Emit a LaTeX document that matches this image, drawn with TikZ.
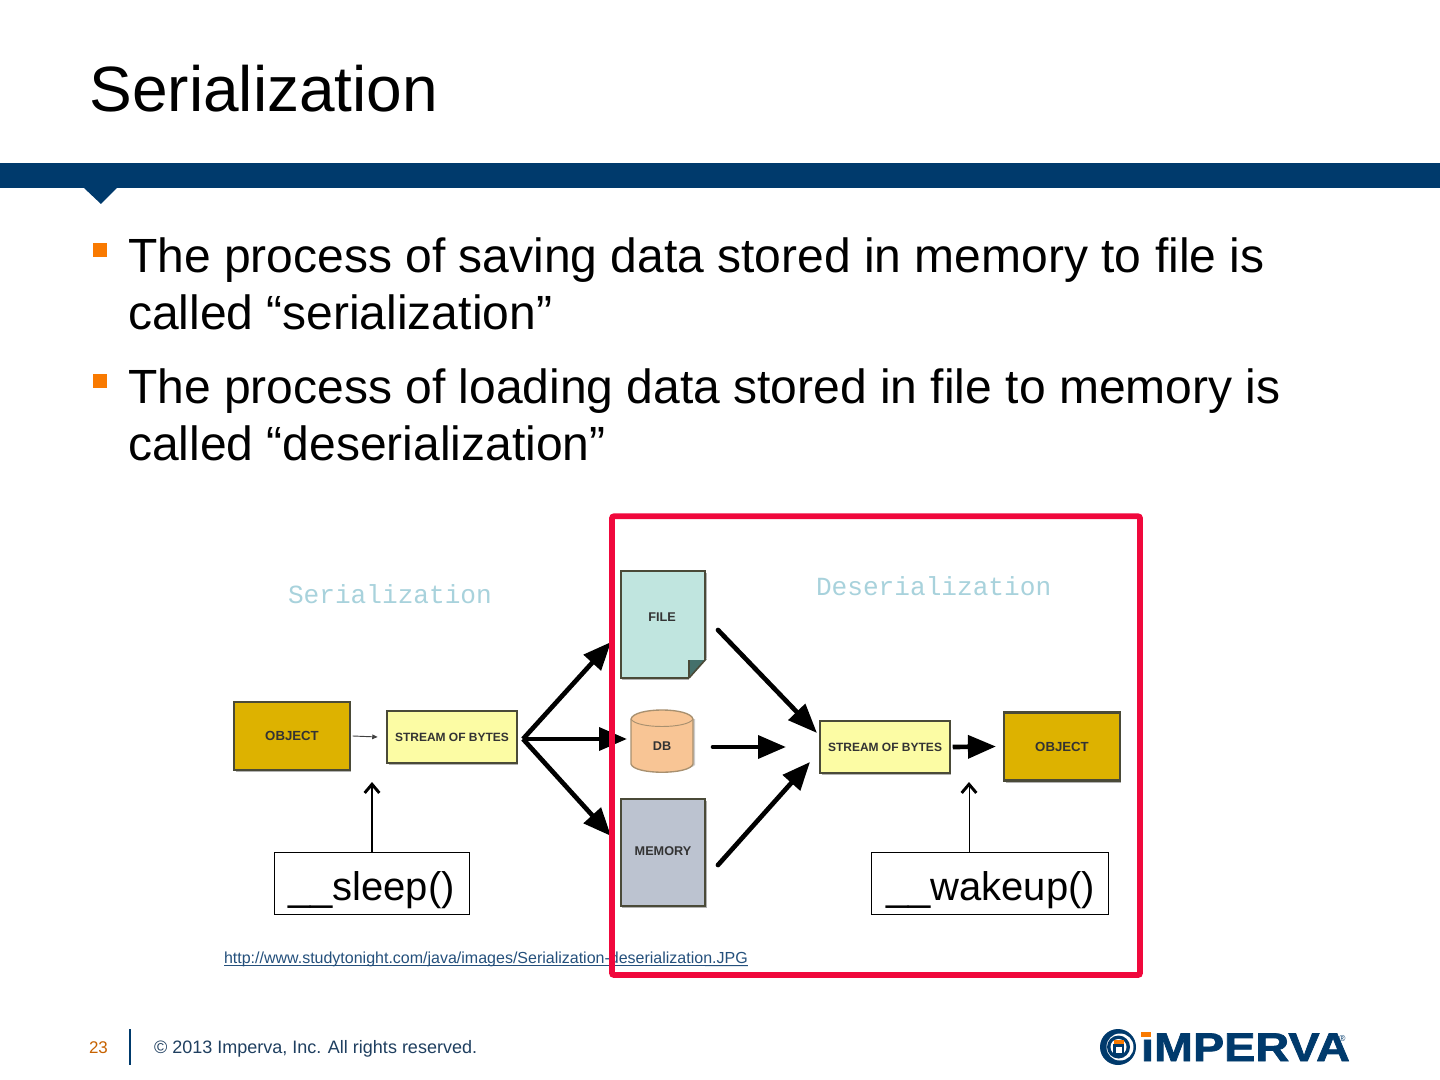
\documentclass[tikz,border=0pt]{standalone}
\usepackage{fontspec}
\setmainfont{Liberation Sans}
\newfontfamily\monofam{Liberation Mono}
\newfontfamily\logofam[FakeBold=1.6,UprightFont={* Bold}]{Liberation Sans}
\usetikzlibrary{arrows.meta,shapes.geometric,shadows}
\definecolor{navy}{HTML}{003A6C}
\definecolor{orangeb}{HTML}{F97A00}
\definecolor{redbox}{HTML}{F0083C}
\definecolor{gold}{HTML}{DDB200}
\definecolor{paley}{HTML}{FCFCA4}
\definecolor{filec}{HTML}{C0E5DF}
\definecolor{foldc}{HTML}{44706B}
\definecolor{dbc}{HTML}{F8C595}
\definecolor{dbedge}{HTML}{A8906F}
\definecolor{memc}{HTML}{BCC3D0}
\definecolor{labelblue}{HTML}{A8D2DC}
\definecolor{linkc}{HTML}{24507C}
\definecolor{footc}{HTML}{1F3F60}
\definecolor{edgec}{HTML}{4A4A38}
\tikzset{
  txt/.style={anchor=base west,inner sep=0pt,outer sep=0pt},
  title/.style={txt,font=\fontsize{48}{48}\selectfont},
  body/.style={txt,font=\fontsize{36}{36}\selectfont},
  bulletmark/.style={fill=orangeb},
  imgbox/.style={draw=edgec,line width=1.6pt,text=black!80,font=\bfseries\fontsize{9}{9}\selectfont,inner sep=0pt,
    drop shadow={shadow xshift=1.2pt,shadow yshift=-1.5pt,fill=black,opacity=.3}},
  objfont/.style={font=\bfseries\fontsize{9.9}{9.9}\selectfont},
  imglabel/.style={txt,font=\monofam\fontsize{19.6}{19.6}\selectfont,text=labelblue},
  innerlabel/.style={txt,anchor=center,text=black!80,font=\bfseries\fontsize{9.5}{9.5}\selectfont},
  callout/.style={draw=black,line width=.75pt,fill=white,inner sep=0pt,minimum height=46.5pt},
  calltext/.style={txt,font=\fontsize{30}{30}\selectfont},
  bigarrow/.style={-{Triangle[length=22pt,width=17pt]},line width=3.5pt,line cap=round,black},
  medarrow/.style={-{Triangle[length=21pt,width=17pt]},line width=3.5pt,line cap=round,black},
  thinarrow/.style={-{Triangle[length=4pt,width=3.5pt]},line width=.7pt,black!75},
  openarrow/.style={-{Straight Barb[length=6.5pt,width=11pt,line width=2.2pt]},black},
  foot/.style={txt,font=\fontsize{13.5}{13.5}\selectfont,text=footc},
}
\begin{document}
\begin{tikzpicture}[x=.75pt,y=-.75pt]
\useasboundingbox (0,0) rectangle (1440,1080);
\fill[white] (0,0) rectangle (1440,1080);
% header
\node[title] (ttl) at (89.5,112) {Serialization};
\fill[navy] (0,163) rectangle (1440,188);
\fill[navy] (84,188) -- (117,188) -- (101,204) -- cycle;
% bullets
\fill[bulletmark] (93,243) rectangle (107,257);
\fill[bulletmark] (93,374) rectangle (107,388);
\node[body] (b1a) at (128,273) {The process of saving data stored in memory to file is};
\node[body] (b1b) at (128,330) {called “serialization”};
\node[body] (b2a) at (128,404) {The process of loading data stored in file to memory is};
\node[body] (b2b) at (128,461) {called “deserialization”};
% image labels
\node[imglabel] (serl) at (288,604) {Serialization};
\node[imglabel] (desl) at (816,595) {Deserialization};
% image boxes
\node[imgbox,objfont,fill=gold,minimum width=86.5pt,minimum height=51pt] (obja) at (292,736) {OBJECT};
\node[imgbox,fill=paley,minimum width=97pt,minimum height=39pt] (stra) at (452,737) {STREAM OF BYTES};
\node[imgbox,fill=filec,minimum width=63.5pt,minimum height=80pt] (file) at (663,624.5) {};
\node[innerlabel] (filet) at (662,617) {FILE};
\fill[white] (689,677.5) -- (706.5,658.5) -- (711,658.5) -- (711,684) -- (689,684) -- cycle;
\fill[foldc] (689,677) -- (689,660) -- (705,660) -- cycle;
\draw[edgec,line width=1.2pt] (689,678) -- (706,659);
\draw[edgec,line width=1.2pt] (689,660) -- (689,678);
% database cylinder
\fill[black,opacity=.2] (633,719) -- (633,765) .. controls (636,772) and (690,772) .. (695,765) -- (695,719) -- cycle;
\filldraw[draw=dbedge,line width=1pt,fill=dbc] (631,719) -- (631,764) .. controls (634,775) and (690,775) .. (693,764) -- (693,719)
  .. controls (690,707) and (634,707) .. (631,719) -- cycle;
\draw[dbedge,line width=.7pt] (631,719) .. controls (636,729) and (688,729) .. (693,719);
\node[innerlabel] (dbt) at (662,746) {DB};
\node[imgbox,fill=memc,minimum width=63.5pt,minimum height=80pt] (mem) at (663,852.5) {};
\node[innerlabel] (memt) at (663,851) {MEMORY};
\node[imgbox,fill=paley,minimum width=97pt,minimum height=39pt] (strb) at (885,747) {STREAM OF BYTES};
\node[imgbox,objfont,fill=gold,minimum width=86.5pt,minimum height=51pt] (objb) at (1062,746.5) {OBJECT};
% serialization arrows
\coordinate (fork) at (523,739);
\coordinate (tofile) at (611,642);
\coordinate (todb) at (627,739);
\coordinate (tomem) at (611,836);
\draw[thinarrow] (obja.east) ++(2,0) -- ([xshift=-6.5pt]stra.west);
\draw[medarrow,line cap=butt] (fork) -- (tofile);
\draw[medarrow,line cap=butt] (fork) -- (todb);
\draw[medarrow,line cap=butt] (fork) -- (tomem);
% deserialization arrows
\coordinate (fa) at (718,630);
\coordinate (fb) at (817,733);
\coordinate (da) at (713,747);
\coordinate (db2) at (786,747);
\coordinate (ma) at (718,865);
\coordinate (mb) at (810,762);
\draw[bigarrow] (fa) -- (fb);
\draw[medarrow] (da) -- (db2);
\draw[medarrow] (ma) -- (mb);
\draw[medarrow,line cap=butt] (strb.east) ++(2,0) -- ([xshift=-5.5pt]objb.west);
% callouts
\node[callout,minimum width=146.5pt] (slp) at (372,883) {};
\node[callout,minimum width=178pt] (wak) at (990,883) {};
\node[calltext] (slpt) at (288,900) {\_\_sleep()};
\node[calltext] (wakt) at (886,900) {\_\_wakeup()};
\coordinate (sleeptip) at (372,782);
\coordinate (waketip) at (969,782);
\draw[openarrow,line width=1.2pt] (slp.north) -- (sleeptip);
\draw[openarrow,line width=.7pt] (wak.north -| waketip) -- (waketip);
% source link
\node[txt,font=\fontsize{12}{12}\selectfont,text=linkc] (lnk) at (224,963) {http://www.studytonight.com/java/images/Serialization-deserialization.JPG};
\draw[linkc,line width=.7pt] (lnk.base west) ++(0,2.5) -- ([yshift=-1.9pt]lnk.base east);
% red frame
\draw[redbox,line width=4.3pt,rounded corners=1.5pt] (612,516.3) rectangle (1140,975);
% footer
\node[foot,text=orangeb!80!black,font=\fontsize{12.7}{12.7}\selectfont] (pg) at (89,1053) {23};
\draw[navy,line width=1.5pt] (130,1029) -- (130,1065);
\node[foot] (copy) at (154,1053) {© 2013 Imperva, Inc. All rights reserved.};
% logo
\fill[navy] (1118,1047) circle (18);
\fill[white] (1120,1047) circle (13.5);
\fill[navy] (1118.5,1047) circle (11.5);
\fill[white] (1118.5,1047) circle (8);
\fill[navy] (1113,1044) rectangle (1124,1056);
\fill[white] (1115.5,1047) rectangle (1121.5,1053);
\fill[orangeb] (1113.5,1040) rectangle (1123.5,1044);
\node[txt,font=\logofam\fontsize{30}{30}\selectfont,text=navy,xscale=1.17] (logo) at (1141,1061) {ıMPERVA};
\fill[orangeb] (1141,1032) rectangle (1151,1036.5);
\node[txt,font=\fontsize{6.5}{6.5}\selectfont,text=navy] (reg) at (1339,1041) {®};
\end{tikzpicture}
\end{document}
